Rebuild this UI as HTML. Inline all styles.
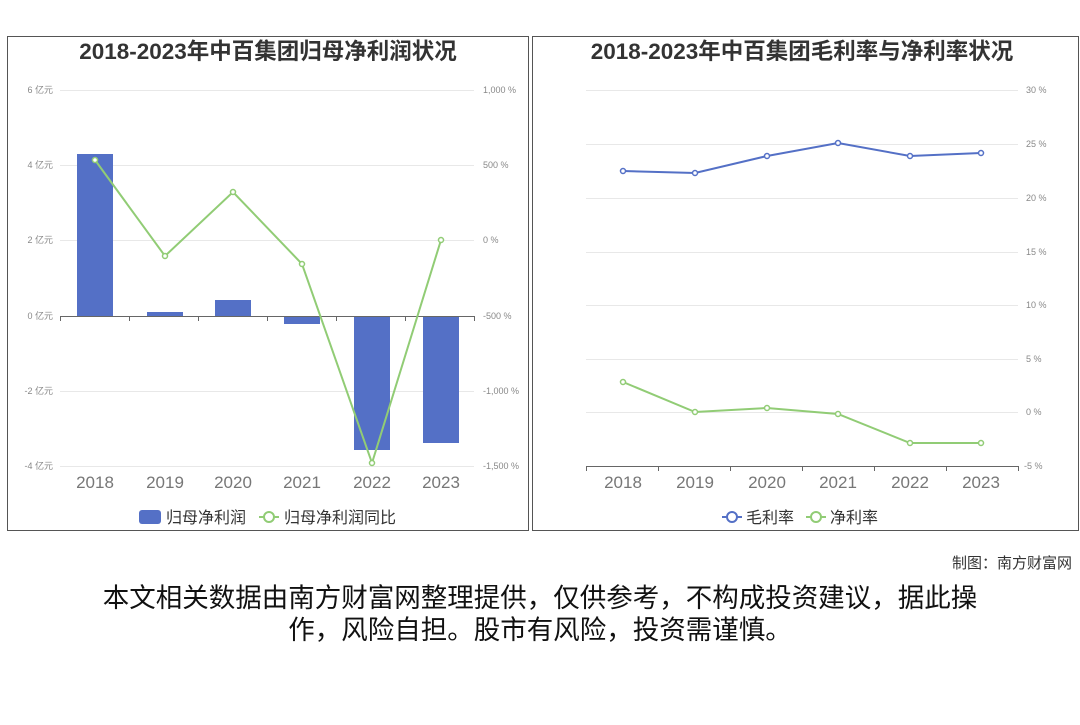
<!DOCTYPE html>
<html><head><meta charset="utf-8">
<style>
body{margin:0;background:#fff;width:1080px;height:720px;overflow:hidden;font-family:"Liberation Sans","Noto Sans CJK SC",sans-serif;}
svg text{font-family:"Liberation Sans","Noto Sans CJK SC",sans-serif;}
</style></head><body>
<svg width="1080" height="720" xmlns="http://www.w3.org/2000/svg">
<rect x="7.5" y="36.5" width="521" height="494" fill="none" stroke="#555" stroke-width="1"/>
<rect x="532.5" y="36.5" width="546" height="494" fill="none" stroke="#555" stroke-width="1"/>
<text x="268" y="59" text-anchor="middle" font-size="22.5" font-weight="bold" fill="#333">2018-2023年中百集团归母净利润状况</text>
<text x="802" y="59" text-anchor="middle" font-size="22.5" font-weight="bold" fill="#333">2018-2023年中百集团毛利率与净利率状况</text>
<g stroke="#e8e8e8" stroke-width="1">
<line x1="60" y1="90.5" x2="474" y2="90.5"/><line x1="60" y1="165.5" x2="474" y2="165.5"/><line x1="60" y1="240.5" x2="474" y2="240.5"/><line x1="60" y1="391.5" x2="474" y2="391.5"/><line x1="60" y1="466.5" x2="474" y2="466.5"/>
</g>
<g font-size="9" fill="#888" text-anchor="end">
<text x="53" y="93">6 亿元</text><text x="53" y="168">4 亿元</text><text x="53" y="243">2 亿元</text><text x="53" y="319">0 亿元</text><text x="53" y="394">-2 亿元</text><text x="53" y="469">-4 亿元</text>
</g>
<g font-size="9" fill="#888">
<text x="483" y="93">1,000 %</text><text x="483" y="168">500 %</text><text x="483" y="243">0 %</text><text x="483" y="319">-500 %</text><text x="483" y="394">-1,000 %</text><text x="483" y="469">-1,500 %</text>
</g>
<g fill="#5470c6">
<rect x="77" y="154" width="36" height="162"/>
<rect x="147" y="312" width="36" height="4"/>
<rect x="215" y="300" width="36" height="16"/>
<rect x="284" y="316" width="36" height="8"/>
<rect x="354" y="316" width="36" height="134"/>
<rect x="423" y="316" width="36" height="127"/>
</g>
<line x1="60" y1="316.5" x2="474" y2="316.5" stroke="#666"/>
<g stroke="#666"><line x1="60.5" y1="316" x2="60.5" y2="321"/><line x1="129.5" y1="316" x2="129.5" y2="321"/><line x1="198.5" y1="316" x2="198.5" y2="321"/><line x1="267.5" y1="316" x2="267.5" y2="321"/><line x1="336.5" y1="316" x2="336.5" y2="321"/><line x1="405.5" y1="316" x2="405.5" y2="321"/><line x1="474.5" y1="316" x2="474.5" y2="321"/></g>
<polyline points="95,160 165,256 233,192 302,264 372,463 441,240" fill="none" stroke="#91cc75" stroke-width="2"/>
<g fill="#fff" stroke="#91cc75" stroke-width="1.5">
<circle cx="95" cy="160" r="2.5"/><circle cx="165" cy="256" r="2.5"/><circle cx="233" cy="192" r="2.5"/><circle cx="302" cy="264" r="2.5"/><circle cx="372" cy="463" r="2.5"/><circle cx="441" cy="240" r="2.5"/>
</g>
<g font-size="17" fill="#777" text-anchor="middle">
<text x="95" y="488">2018</text><text x="165" y="488">2019</text><text x="233" y="488">2020</text><text x="302" y="488">2021</text><text x="372" y="488">2022</text><text x="441" y="488">2023</text>
</g>
<rect x="139" y="510" width="22" height="14" rx="3" fill="#5470c6"/>
<text x="166" y="523" font-size="16" fill="#333">归母净利润</text>
<line x1="259" y1="517" x2="279" y2="517" stroke="#91cc75" stroke-width="2"/><circle cx="269" cy="517" r="5" fill="#fff" stroke="#91cc75" stroke-width="2"/>
<text x="284" y="523" font-size="16" fill="#333">归母净利润同比</text>
<g stroke="#e8e8e8" stroke-width="1">
<line x1="586" y1="90.5" x2="1018" y2="90.5"/><line x1="586" y1="144.5" x2="1018" y2="144.5"/><line x1="586" y1="198.5" x2="1018" y2="198.5"/><line x1="586" y1="252.5" x2="1018" y2="252.5"/><line x1="586" y1="305.5" x2="1018" y2="305.5"/><line x1="586" y1="359.5" x2="1018" y2="359.5"/><line x1="586" y1="412.5" x2="1018" y2="412.5"/>
</g>
<line x1="586" y1="466.5" x2="1018" y2="466.5" stroke="#666"/>
<g stroke="#666"><line x1="586.5" y1="466" x2="586.5" y2="471"/><line x1="658.5" y1="466" x2="658.5" y2="471"/><line x1="730.5" y1="466" x2="730.5" y2="471"/><line x1="802.5" y1="466" x2="802.5" y2="471"/><line x1="874.5" y1="466" x2="874.5" y2="471"/><line x1="946.5" y1="466" x2="946.5" y2="471"/><line x1="1018.5" y1="466" x2="1018.5" y2="471"/></g>
<g font-size="9" fill="#888">
<text x="1026" y="93">30 %</text><text x="1026" y="147">25 %</text><text x="1026" y="201">20 %</text><text x="1026" y="255">15 %</text><text x="1026" y="308">10 %</text><text x="1026" y="362">5 %</text><text x="1026" y="415">0 %</text><text x="1024" y="469">-5 %</text>
</g>
<polyline points="623,171 695,173 767,156 838,143 910,156 981,153" fill="none" stroke="#5470c6" stroke-width="2"/>
<polyline points="623,382 695,412 767,408 838,414 910,443 981,443" fill="none" stroke="#91cc75" stroke-width="2"/>
<g fill="#fff" stroke="#5470c6" stroke-width="1.5"><circle cx="623" cy="171" r="2.5"/><circle cx="695" cy="173" r="2.5"/><circle cx="767" cy="156" r="2.5"/><circle cx="838" cy="143" r="2.5"/><circle cx="910" cy="156" r="2.5"/><circle cx="981" cy="153" r="2.5"/></g>
<g fill="#fff" stroke="#91cc75" stroke-width="1.5"><circle cx="623" cy="382" r="2.5"/><circle cx="695" cy="412" r="2.5"/><circle cx="767" cy="408" r="2.5"/><circle cx="838" cy="414" r="2.5"/><circle cx="910" cy="443" r="2.5"/><circle cx="981" cy="443" r="2.5"/></g>
<g font-size="17" fill="#777" text-anchor="middle">
<text x="623" y="488">2018</text><text x="695" y="488">2019</text><text x="767" y="488">2020</text><text x="838" y="488">2021</text><text x="910" y="488">2022</text><text x="981" y="488">2023</text>
</g>
<line x1="722" y1="517" x2="742" y2="517" stroke="#5470c6" stroke-width="2"/><circle cx="732" cy="517" r="5" fill="#fff" stroke="#5470c6" stroke-width="2"/>
<text x="746" y="523" font-size="16" fill="#333">毛利率</text>
<line x1="806" y1="517" x2="826" y2="517" stroke="#91cc75" stroke-width="2"/><circle cx="816" cy="517" r="5" fill="#fff" stroke="#91cc75" stroke-width="2"/>
<text x="830" y="523" font-size="16" fill="#333">净利率</text>
<text x="1072" y="568" text-anchor="end" font-size="15" fill="#333">制图：南方财富网</text>
<text x="540" y="607" text-anchor="middle" font-size="26.5" fill="#111" font-family="Noto Sans CJK SC, sans-serif">本文相关数据由南方财富网整理提供，仅供参考，不构成投资建议，据此操</text>
<text x="540" y="639" text-anchor="middle" font-size="26.5" fill="#111" font-family="Noto Sans CJK SC, sans-serif">作，风险自担。股市有风险，投资需谨慎。</text>
</svg>
</body></html>
